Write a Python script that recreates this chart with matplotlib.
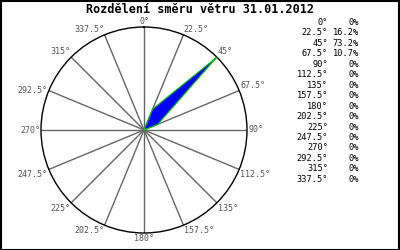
import numpy as np
import matplotlib
matplotlib.use("Agg")
import matplotlib.pyplot as plt
from matplotlib.patches import Rectangle

title = "Rozdělení směru větru 31.01.2012"
directions = [0, 22.5, 45, 67.5, 90, 112.5, 135, 157.5, 180, 202.5, 225, 247.5, 270, 292.5, 315, 337.5]
percents = [0, 16.2, 73.2, 10.7, 0, 0, 0, 0, 0, 0, 0, 0, 0, 0, 0, 0]
dir_labels = ["0°", "22.5°", "45°", "67.5°", "90°", "112.5°", "135°", "157.5°",
              "180°", "202.5°", "225°", "247.5°", "270°", "292.5°", "315°", "337.5°"]
pct_labels = ["0%", "16.2%", "73.2%", "10.7%", "0%", "0%", "0%", "0%",
              "0%", "0%", "0%", "0%", "0%", "0%", "0%", "0%"]

W, H = 400, 250
fig = plt.figure(figsize=(W / 100, H / 100), dpi=100)
fig.patch.set_facecolor("white")

cx, cy, R = 144, 130, 103
ax = fig.add_axes([(cx - R) / W, (H - cy - R) / H, 2 * R / W, 2 * R / H], projection="polar")
ax.set_theta_zero_location("N")
ax.set_theta_direction(-1)
rmax = max(percents)
ax.set_ylim(0, rmax)
ax.grid(False)
ax.set_xticks([])
ax.set_yticks([])
ax.spines["polar"].set_color("black")
ax.spines["polar"].set_linewidth(1.0)
ax.set_facecolor("white")

theta = np.deg2rad(directions)
mono = "DejaVu Sans Mono"

# spokes
for t in theta:
    ax.plot([t, t], [0, rmax], color="#666666", lw=1.0, zorder=1, solid_capstyle="butt")

# filled rose
tt = np.append(theta, theta[0])
rr = np.append(percents, percents[0])
ax.fill(tt, rr, facecolor="#0000ff", edgecolor="#00cc00", lw=0.8, zorder=3)

# angle labels around the circle
for d, t, lab in zip(directions, theta, dir_labels):
    s, c = np.sin(t), np.cos(t)
    if abs(s) < 1e-6:
        ha = "center"
    elif s > 0:
        ha = "left"
    else:
        ha = "right"
    if abs(c) < 1e-6 or d == 292.5:
        va = "center"
    elif c > 0:
        va = "bottom"
    else:
        va = "top"
    ax.text(t, rmax * 1.01, lab, ha=ha, va=va, fontsize=6, family=mono,
            color="#555555", clip_on=False)

# title
fig.text(200 / W, 1 - 9.5 / H, title, ha="center", va="center", fontsize=8.5,
         family=mono, fontweight="bold", color="black")

# table
y0, dy = 22.5, 10.45
for i, (dl, pl) in enumerate(zip(dir_labels, pct_labels)):
    y = 1 - (y0 + i * dy) / H
    fig.text(328 / W, y, dl, ha="right", va="center", fontsize=6.2, family=mono, color="black")
    fig.text(359 / W, y, pl, ha="right", va="center", fontsize=6.2, family=mono, color="black")

# outer frame
fig.patches.append(Rectangle((0.5 / W, 0.5 / H), 1 - 1.5 / W, 1 - 1.5 / H,
                             transform=fig.transFigure, fill=False,
                             edgecolor="black", lw=1.5, zorder=10))

fig.savefig("out.png", dpi=100, facecolor="white")
